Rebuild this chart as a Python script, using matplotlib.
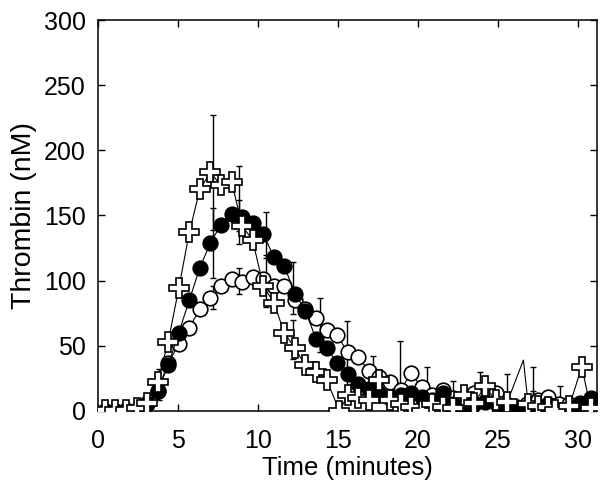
import numpy as np
import matplotlib.pyplot as plt

plt.rcParams['font.family'] = ['Liberation Sans', 'DejaVu Sans']

# sampling times (minutes) for the two circle curves
time_min = [0.44, 1.10, 1.76, 2.42, 3.08, 3.74, 4.40, 5.06, 5.72, 6.38,
            7.04, 7.70, 8.36, 9.02, 9.68, 10.34, 11.00, 11.66, 12.32, 12.98,
            13.64, 14.30, 14.96, 15.62, 16.28, 16.94, 17.60, 18.26, 18.92, 19.58,
            20.24, 20.90, 21.56, 22.22, 22.88, 23.54, 24.20, 24.86, 25.52, 26.18,
            26.84, 27.50, 28.16, 28.82, 29.48, 30.14, 30.80]
# cross curve times (one spike point without marker at 26.6)
time_cross = [0.44, 1.10, 1.76, 2.42, 3.08, 3.74, 4.40, 5.06, 5.72, 6.38,
              7.04, 7.70, 8.36, 9.02, 9.68, 10.34, 11.00, 11.66, 12.32, 12.98,
              13.64, 14.30, 15.10, 15.62, 16.28, 16.94, 17.60, 18.26, 18.92, 19.58,
              20.24, 20.90, 21.56, 22.22, 22.88, 23.54, 24.20, 24.86, 25.60, 26.60,
              26.90, 27.50, 28.16, 28.60, 29.48, 30.25, 30.80]

thrombin_filled = [0, 0, 1, 1, 6, 15, 35, 60, 85, 110,
                   129, 143, 151, 149, 144, 136, 118, 111, 90, 77,
                   55, 48, 37, 28, 21, 17, 13, 10, 12, 14,
                   11, 8, 14, 5, 1, 5, 7, 6, 2, 3,
                   0, 3, 5, 1, 2, 5, 10]

thrombin_open = [0, 0, 0, 1, 5, 15, 37, 51, 64, 78,
                 87, 96, 101, 99, 103, 101, 96, 96, 85, 78,
                 71, 62, 58, 45, 41, 31, 26, 22, 16, 29,
                 18, 12, 16, 10, 1, 14, 1, 14, 5, 0,
                 5, 8, 11, 5, 5, 6, 0]

thrombin_cross = [1, 1, 1, 2, 6, 22, 53, 94, 137, 170,
                  183, 173, 176, 142, 131, 96, 83, 60, 48, 35,
                  30, 24, 0, 12, 10, 8, 24, 8, 5, 3,
                  0, 5, 3, 2, 12, 6, 19, 8, 7, 39,
                  5, 4, 3, 1, 4, 34, 2]

# mean +/- SD bars
err_cross_t = [3.83, 7.17, 8.83, 12.17]
err_cross_mid = [20, 183, 158, 55]
err_cross_sd = [12, 44, 30, 15]

err_filled_t = [7.17, 8.83, 10.50, 12.17, 27.19]
err_filled_mid = [129, 150, 135, 94, 5]
err_filled_sd = [27, 12, 18, 20, 10]

err_open_t = [7.17, 8.83, 10.50, 13.88, 15.56, 17.19, 18.88, 20.56, 22.19,
              23.88, 25.56, 27.19, 28.88]
err_open_mid = [87, 100, 100, 66, 44, 30, 22, 18, 12, 12, 8, 8, 6]
err_open_sd = [9, 10, 20, 21, 25, 12, 32, 16, 11, 18, 20, 26, 13]

fig, ax = plt.subplots(figsize=(6, 4.88), dpi=100)
fig.subplots_adjust(left=0.163, right=0.995, bottom=0.158, top=0.959)

bar_style = dict(fmt='none', ecolor='black', elinewidth=1, capsize=2.5,
                 capthick=1, zorder=1)
ax.errorbar(err_open_t, err_open_mid, yerr=err_open_sd, **bar_style)
ax.errorbar(err_filled_t, err_filled_mid, yerr=err_filled_sd, **bar_style)
ax.errorbar(err_cross_t, err_cross_mid, yerr=err_cross_sd, **bar_style)

no_marker = [i for i in range(len(time_cross)) if i != 39]
ax.plot(time_min, thrombin_open, '-o', color='black', mfc='white', mec='black',
        ms=10.5, mew=1.2, lw=0.8, zorder=3)
ax.plot(time_min, thrombin_filled, '-o', color='black', mfc='black', mec='black',
        ms=10.5, mew=1.2, lw=0.8, zorder=4)
ax.plot(time_cross, thrombin_cross, '-P', color='black', mfc='white', mec='black',
        ms=15, mew=1.2, lw=0.8, markevery=no_marker, zorder=5)

ax.set_xlim(0, 31.2)
ax.set_ylim(0, 300)
ax.set_xticks([0, 5, 10, 15, 20, 25, 30])
ax.set_yticks([0, 50, 100, 150, 200, 250, 300])
ax.tick_params(direction='in', length=5, width=1, top=True, right=True,
               labelsize=18)
ax.tick_params(axis='x', pad=13)
ax.tick_params(axis='y', pad=8.5)
for s in ax.spines.values():
    s.set_linewidth(1.1)
ax.set_xlabel('Time (minutes)', fontsize=18.5, labelpad=2)
ax.set_ylabel('Thrombin (nM)', fontsize=20.5, labelpad=5)

fig.savefig('out.png')
